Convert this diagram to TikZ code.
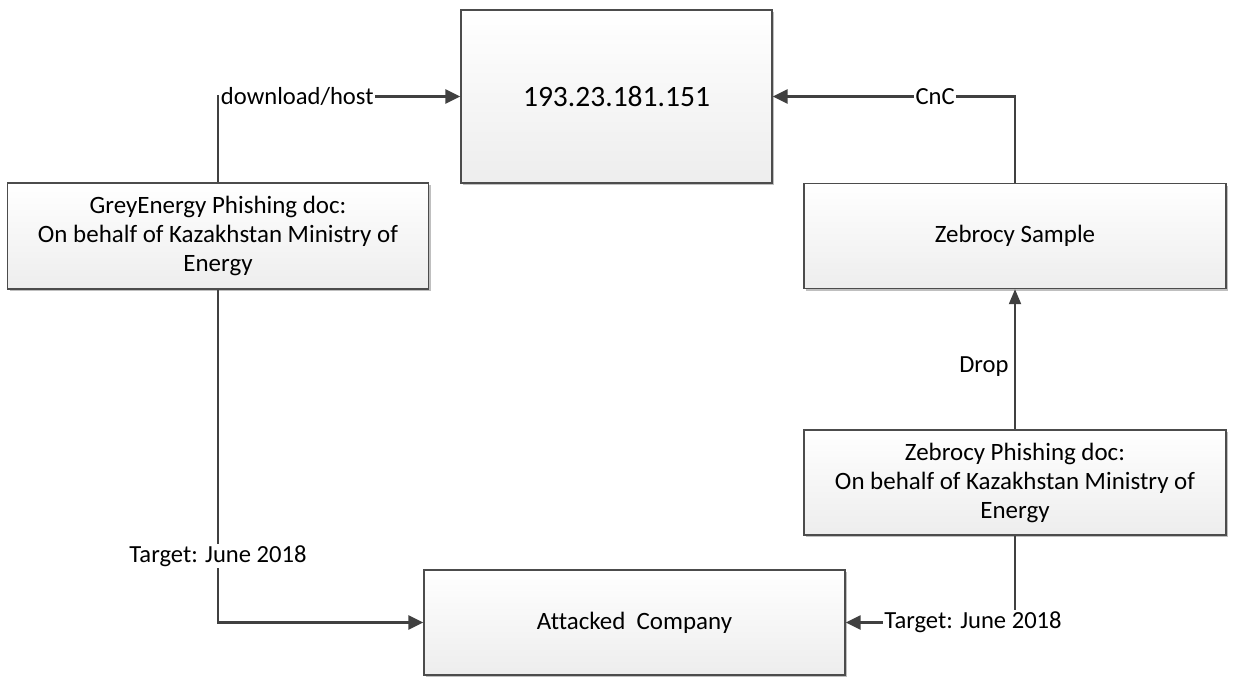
\documentclass[tikz,border=0pt]{standalone}
\usepackage{fontspec}
\setmainfont{Carlito}[Ligatures=NoCommon]
\usetikzlibrary{arrows.meta,shadows}

\begin{document}
\begin{tikzpicture}[x=0.02cm,y=-0.02cm,
    box/.style={draw=black!70, line width=0.9pt, shading=axis, top color=white, bottom color=black!7,
      drop shadow={shadow xshift=1.2pt, shadow yshift=-1.2pt, opacity=0.25, fill=black},
      align=center, inner sep=0pt, font=\fontsize{14.2}{16.5}\selectfont},
    conn/.style={draw=black!75, line width=1.4pt, -{Triangle[length=8.5pt, width=8pt]}},
    thin conn/.style={draw=black!75, line width=0.7pt, -{Triangle[length=8.5pt, width=7pt]}},
    lbl/.style={fill=white, inner sep=1pt, font=\fontsize{14}{16.5}\selectfont}]
  \useasboundingbox (0,0) rectangle (1233,676);
  \node[box, minimum width=311*0.02cm, minimum height=173*0.02cm, font=\fontsize{16.8}{20}\selectfont]
    (ip) at (616.5,96.5) {193.23.181.151};
  \node[box, minimum width=421*0.02cm, minimum height=106*0.02cm]
    (grey) at (218,236) {GreyEnergy Phishing doc:\\On behalf of Kazakhstan Ministry of\\Energy};
  \node[box, minimum width=422*0.02cm, minimum height=105*0.02cm]
    (zsample) at (1015,236) {Zebrocy Sample};
  \node[box, minimum width=422*0.02cm, minimum height=105*0.02cm]
    (zphish) at (1015,482.5) {Zebrocy Phishing doc:\\On behalf of Kazakhstan Ministry of\\Energy};
  \node[box, minimum width=421*0.02cm, minimum height=105*0.02cm]
    (attacked) at (634.5,622.5) {Attacked\ \ Company};

  \draw[conn] (grey.north) |- node[lbl, anchor=west, pos=0.5] {download/host} (ip.west);
  \draw[conn] (zsample.north) |- node[lbl, pos=0.665] {CnC} (ip.east);
  \draw[thin conn] (zphish.north) -- node[left, pos=0.45] {\fontsize{14}{16.5}\selectfont Drop} (zsample.south);
  \draw[conn] (grey.south) |- node[lbl, pos=0.40] {Target: June 2018} (attacked.west);
  \draw[conn] (zphish.south) |- node[lbl, pos=0.624] {Target: June 2018} (attacked.east);
\end{tikzpicture}
\end{document}
